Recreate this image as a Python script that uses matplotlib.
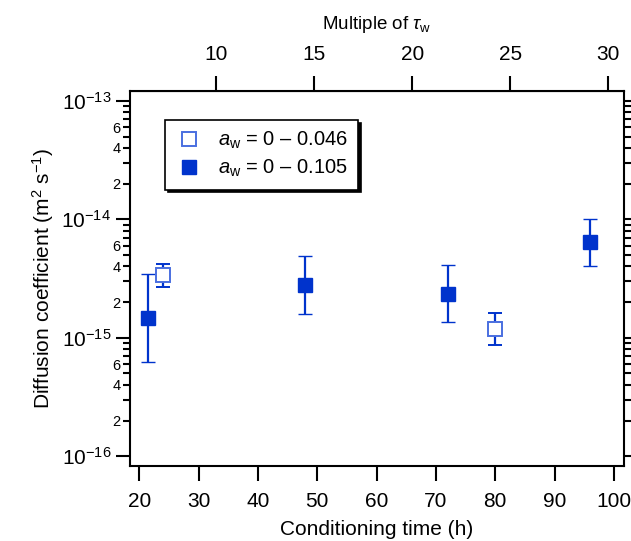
import numpy as np
import matplotlib.pyplot as plt
from matplotlib.lines import Line2D
from matplotlib.ticker import FixedLocator, FuncFormatter

plt.rcParams['font.family'] = ['Liberation Sans', 'DejaVu Sans']
plt.rcParams['mathtext.fontset'] = 'custom'
plt.rcParams['mathtext.rm'] = 'Liberation Sans'
plt.rcParams['mathtext.it'] = 'Liberation Sans:italic'

# conditioning time (h), diffusion coefficient (m2/s) and error bar limits
t_low = [24, 80]
d_low = [3.36e-15, 1.18e-15]
d_low_hi = [4.19e-15, 1.63e-15]
d_low_lo = [2.69e-15, 8.7e-16]

t_high = [21.5, 48, 72, 96]
d_high = [1.48e-15, 2.78e-15, 2.35e-15, 6.42e-15]
d_high_hi = [3.49e-15, 4.89e-15, 4.13e-15, 1.0e-14]
d_high_lo = [6.3e-16, 1.59e-15, 1.35e-15, 4.07e-15]

labels = [r'$a_\mathrm{w}$ = 0 – 0.046', r'$a_\mathrm{w}$ = 0 – 0.105']
tau_w = 3.3  # h
blue = '#0033cc'
light_blue = '#4a6fe0'

fig = plt.figure(figsize=(6.31, 5.41), dpi=100)
ax = fig.add_axes([0.206, 0.139, 0.783, 0.693])

err_low = [np.array(d_low) - np.array(d_low_lo), np.array(d_low_hi) - np.array(d_low)]
err_high = [np.array(d_high) - np.array(d_high_lo), np.array(d_high_hi) - np.array(d_high)]

ax.errorbar(t_high, d_high, yerr=err_high, fmt='s', ms=10, mec=blue, mfc=blue,
            ecolor=blue, elinewidth=1.6, capsize=5, capthick=1.6, mew=1.0, zorder=3)
ax.errorbar(t_low, d_low, yerr=err_low, fmt='s', ms=10, mec=light_blue, mfc='white',
            ecolor=blue, elinewidth=1.6, capsize=5, capthick=1.6, mew=1.4, zorder=3)

ax.set_yscale('log')
ax.set_ylim(10**-16.08, 10**-12.916)
ax.set_xlim(18.45, 101.7)
ax.set_xticks(np.arange(20, 101, 10))

decades = [-16, -15, -14, -13]
ax.yaxis.set_major_locator(FixedLocator([10.0**d for d in decades]))
ax.yaxis.set_minor_locator(FixedLocator([m * 10.0**d for d in decades[:-1] for m in range(2, 10)]))

def minor_label(v, pos):
    m = int(round(v / 10 ** np.floor(np.log10(v) + 1e-9)))
    return str(m) if m in (2, 4, 6) else ''

ax.yaxis.set_minor_formatter(FuncFormatter(minor_label))
ax.yaxis.set_major_formatter(FuncFormatter(lambda v, p: r'$10^{%d}$' % int(round(np.log10(v)))))

for s in ax.spines.values():
    s.set_linewidth(1.5)
ax.tick_params(axis='x', which='major', direction='out', length=11, width=1.5, labelsize=15, pad=8)
ax.tick_params(axis='y', which='major', direction='out', length=10, width=1.5, labelsize=15)
ax.tick_params(axis='y', which='minor', direction='out', length=5, width=1.5, labelsize=10.5, pad=2)
ax.tick_params(axis='x', which='minor', bottom=False)
ax.tick_params(axis='y', which='both', right=True)

ax.set_xlabel('Conditioning time (h)', fontsize=15, labelpad=6)
ax.set_ylabel(r'Diffusion coefficient (m$^{2}$ s$^{-1}$)', fontsize=15, labelpad=4)

top = ax.secondary_xaxis('top', functions=(lambda x: x / tau_w, lambda x: x * tau_w))
top.set_xticks([10, 15, 20, 25, 30])
top.tick_params(direction='out', length=11, width=1.5, labelsize=15, pad=8)
top.xaxis.set_minor_locator(FixedLocator([]))
top.set_xlabel(r'Multiple of $\tau_\mathrm{w}$', fontsize=13.5, labelpad=12)

handles = [Line2D([], [], ls='none', marker='s', ms=10, mec=light_blue, mfc='white', mew=1.4),
           Line2D([], [], ls='none', marker='s', ms=10, mec=blue, mfc=blue, mew=1.0)]
leg = ax.legend(handles, labels, loc='upper left', bbox_to_anchor=(0.071, 0.923),
                borderaxespad=0, fontsize=14.5, frameon=True, fancybox=False,
                handletextpad=0.75, borderpad=0.5, labelspacing=0.35, handlelength=1.4,
                shadow={'color': 'black', 'alpha': 1.0})
leg.get_frame().set_edgecolor('black')
leg.get_frame().set_linewidth(1.2)

fig.savefig('out.png', dpi=100)
